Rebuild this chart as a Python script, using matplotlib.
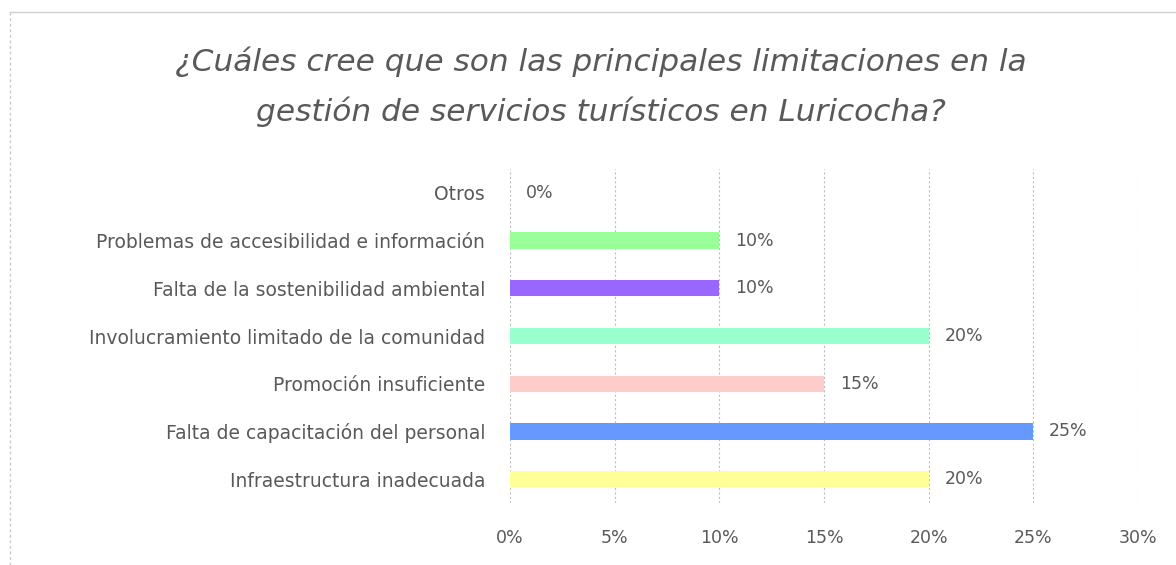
import matplotlib
matplotlib.use("Agg")
import matplotlib.pyplot as plt
from matplotlib.patches import Rectangle

categories = [
    "Infraestructura inadecuada",
    "Falta de capacitación del personal",
    "Promoción insuficiente",
    "Involucramiento limitado de la comunidad",
    "Falta de la sostenibilidad ambiental",
    "Problemas de accesibilidad e información",
    "Otros",
]
values = [20, 25, 15, 20, 10, 10, 0]
colors = ["#FFFF99", "#6699FF", "#FFCCCC", "#99FFCC", "#9966FF", "#99FF99", "#FFFFFF"]
xticks = [0, 5, 10, 15, 20, 25, 30]

W, H = 1176, 565
fig = plt.figure(figsize=(W / 100, H / 100), dpi=100)
ax = fig.add_axes([510 / W, 1 - 503 / H, (1138 - 510) / W, (503 - 169) / H])

txt = "#595959"
ypos = range(len(categories))
ax.barh(ypos, values, height=0.34, color=colors, zorder=3)
for y, v in zip(ypos, values):
    ax.text(v + 0.75, y, f"{v}%", va="center", ha="left", fontsize=12.5, color=txt)

ax.set_xlim(0, 30)
ax.set_ylim(-0.5, len(categories) - 0.5)
ax.set_xticks(xticks)
ax.set_xticklabels([f"{t}%" for t in xticks], fontsize=12.5, color=txt)
ax.set_yticks(list(ypos))
ax.set_yticklabels(categories, fontsize=13.5, color=txt)
ax.tick_params(length=0, pad=19, axis="x")
ax.tick_params(length=0, pad=18, axis="y")
ax.grid(axis="x", color="#BFBFBF", linestyle=(0, (2, 2)), linewidth=0.8, zorder=0)
for s in ax.spines.values():
    s.set_visible(False)

fig.text(601 / W, 1 - 62 / H, "¿Cuáles cree que son las principales limitaciones en la",
         ha="center", va="center", fontsize=22.5, style="italic", color=txt)
fig.text(601 / W, 1 - 112 / H, "gestión de servicios turísticos en Luricocha?",
         ha="center", va="center", fontsize=22.5, style="italic", color=txt)

# chart frame: solid top, dashed left
fig.add_artist(plt.Line2D([10 / W, 1], [1 - 12 / H, 1 - 12 / H], transform=fig.transFigure,
                          color="#D0D0D0", linewidth=1))
fig.add_artist(plt.Line2D([10 / W, 10 / W], [0, 1 - 12 / H], transform=fig.transFigure,
                          color="#C8C8C8", linewidth=1, linestyle=(0, (2, 2))))

fig.savefig("out.png", dpi=100)
